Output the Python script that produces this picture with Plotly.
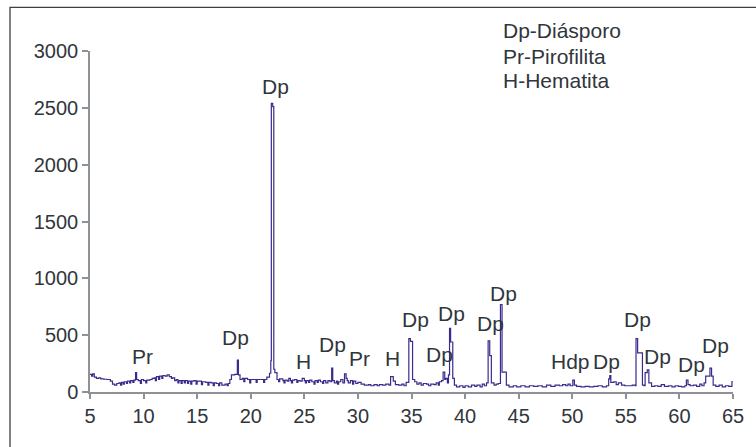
import plotly.graph_objects as go

# 2-theta positions and intensities
two_theta = [
    5.0, 5.15, 5.25, 5.4, 5.6, 5.8, 6.0, 6.3, 6.6, 6.9, 7.1, 7.3, 7.5, 7.7, 7.85, 7.95,
    8.1, 8.2, 8.4, 8.5, 8.7, 8.8, 9.0, 9.1, 9.25, 9.35, 9.5, 9.7, 9.8, 10.0, 10.2, 10.3,
    10.6, 10.8, 11.0, 11.1, 11.2, 11.4, 11.5, 11.7, 11.8, 12.0, 12.2, 12.4, 12.6, 12.7,
    12.9, 13.05, 13.2, 13.3, 13.5, 13.6, 13.8, 13.9, 14.1, 14.2, 14.4, 14.5, 14.7, 14.9,
    15.0, 15.2, 15.4, 15.5, 15.8, 16.0, 16.1, 16.3, 16.5, 16.6, 16.8, 17.0, 17.1, 17.3,
    17.6, 17.8, 17.9, 18.05, 18.2, 18.5, 18.75, 18.85, 19.0, 19.2, 19.35, 19.45, 19.7,
    19.9, 20.0, 20.3, 20.5, 20.6, 21.0, 21.2, 21.3, 21.5, 21.75, 21.87, 21.92, 22.05,
    22.15, 22.25, 22.45, 22.6, 22.7, 23.0, 23.1, 23.2, 23.4, 23.55, 23.7, 23.8, 23.9,
    24.1, 24.3, 24.4, 24.6, 24.8, 25.0, 25.1, 25.2, 25.4, 25.5, 25.7, 25.9, 26.0, 26.2,
    26.3, 26.5, 26.7, 26.8, 27.0, 27.2, 27.4, 27.55, 27.65, 27.8, 28.0, 28.1, 28.2, 28.4,
    28.6, 28.75, 28.9, 29.0, 29.1, 29.3, 29.5, 29.6, 29.8, 30.0, 30.3, 30.6, 31.0, 31.2,
    31.5, 31.8, 32.0, 32.3, 32.6, 32.9, 33.05, 33.3, 33.5, 33.8, 34.1, 34.3, 34.5, 34.75,
    34.9, 35.1, 35.3, 35.5, 35.7, 35.9, 36.1, 36.4, 36.6, 36.8, 37.1, 37.3, 37.5, 37.6,
    37.8, 37.95, 38.1, 38.2, 38.35, 38.45, 38.55, 38.65, 38.85, 39.0, 39.2, 39.5, 39.8,
    40.0, 40.3, 40.6, 40.9, 41.1, 41.4, 41.6, 41.8, 42.0, 42.15, 42.3, 42.45, 42.7, 42.9,
    43.1, 43.3, 43.45, 43.85, 44.1, 44.5, 44.8, 45.2, 45.6, 46.0, 46.4, 46.8, 47.2, 47.6,
    48.0, 48.4, 48.8, 49.1, 49.4, 49.6, 49.8, 50.05, 50.2, 50.4, 50.8, 51.2, 51.6, 52.0,
    52.4, 52.8, 53.2, 53.4, 53.5, 53.6, 53.9, 54.1, 54.3, 54.6, 54.9, 55.3, 55.6, 55.85,
    55.95, 56.1, 56.55, 56.7, 56.8, 57.0, 57.15, 57.4, 57.7, 58.0, 58.3, 58.6, 59.0, 59.3,
    59.6, 59.9, 60.2, 60.5, 60.65, 60.8, 61.0, 61.3, 61.6, 61.9, 62.1, 62.3, 62.45, 62.85,
    63.0, 63.15, 63.4, 63.7, 64.0, 64.3, 64.6, 64.9, 65.0,
]
intensity = [
    155, 140, 160, 130, 120, 125, 115, 112, 110, 95, 70, 60, 75, 80, 60, 85,
    70, 90, 75, 95, 80, 100, 85, 105, 170, 110, 100, 75, 110, 100, 80, 105,
    110, 120, 125, 100, 135, 110, 140, 120, 145, 140, 150, 135, 120, 125,
    100, 110, 80, 100, 75, 100, 80, 100, 75, 95, 70, 95, 100, 70,
    95, 95, 65, 90, 85, 60, 85, 80, 55, 80, 75, 55, 80, 60,
    70, 55, 75, 110, 150, 155, 280, 150, 110, 120, 90, 120, 110,
    80, 110, 110, 85, 110, 110, 85, 110, 130, 165, 275, 2540, 2510,
    200, 170, 110, 90, 115, 100, 80, 105, 95, 120, 100, 80, 105,
    110, 85, 100, 95, 120, 100, 80, 100, 85, 105, 90, 70, 100, 85,
    105, 90, 75, 100, 80, 100, 90, 210, 100, 80, 95, 70, 90, 110,
    80, 160, 120, 100, 80, 100, 70, 95, 75, 85, 70, 60, 65, 55,
    65, 55, 65, 60, 70, 60, 135, 95, 65, 60, 70, 55, 85, 470,
    445, 110, 90, 70, 80, 60, 75, 70, 55, 70, 65, 80, 60, 90,
    100, 175, 110, 120, 80, 150, 560, 440, 120, 60, 45, 55, 40,
    55, 45, 60, 50, 60, 45, 70, 55, 80, 450, 320, 80, 60, 70,
    75, 770, 175, 60, 45, 55, 45, 55, 45, 55, 50, 55, 45, 60,
    50, 60, 55, 65, 55, 70, 55, 105, 60, 50, 45, 50, 45, 50,
    55, 45, 55, 115, 145, 85, 90, 65, 80, 60, 55, 55, 60, 55,
    470, 345, 60, 55, 170, 195, 80, 50, 55, 50, 65, 50, 55, 45,
    55, 50, 45, 55, 105, 65, 55, 60, 50, 70, 55, 80, 140, 210,
    140, 60, 50, 60, 45, 55, 50, 90, 90,
]

# Peak labels
label_text = ["Pr", "Dp", "Dp", "H", "Dp", "Pr", "H", "Dp", "Dp", "Dp", "Dp", "Dp",
              "Hdp", "Dp", "Dp", "Dp", "Dp", "Dp"]
label_x = [9.87, 18.6, 22.27, 24.9, 27.66, 30.19, 33.2, 35.37, 37.6, 38.76, 42.37, 43.54,
           49.87, 53.17, 56.1, 57.94, 61.12, 63.34]
label_y = [313, 483, 2692, 269, 416, 299, 299, 636, 334, 688, 606, 870,
           269, 269, 636, 308, 246, 407]

legend_lines = ["Dp-Diásporo", "Pr-Pirofilita", "H-Hematita"]

x_ticks = [5, 10, 15, 20, 25, 30, 35, 40, 45, 50, 55, 60, 65]
y_ticks = [0, 500, 1000, 1500, 2000, 2500, 3000]

FONT = "Liberation Sans, Arial, sans-serif"
TXT = "#30363b"
AX = "#8d9297"

fig = go.Figure()
fig.add_trace(go.Scatter(
    x=two_theta, y=intensity, mode="lines", line_shape="hv",
    line=dict(color="#3b2b8c", width=1.2), showlegend=False, hoverinfo="skip",
))

annotations = []
for t, lx, ly in zip(label_text, label_x, label_y):
    annotations.append(dict(x=lx, y=ly, xref="x", yref="y", text=t, showarrow=False,
                            xanchor="center", yanchor="middle",
                            font=dict(family=FONT, size=21, color=TXT)))

plot_top, plot_bot, plot_l, plot_r = 51, 392.3, 90, 738.7
ph = plot_bot - plot_top
pw = plot_r - plot_l
for line, py in zip(legend_lines, [30, 56.5, 81]):
    annotations.append(dict(x=(505 - plot_l) / pw, y=(plot_bot - py) / ph, xref="paper", yref="paper",
                            text=line, showarrow=False, xanchor="left", yanchor="middle",
                            font=dict(family=FONT, size=21, color=TXT)))

fig.update_layout(
    width=756, height=447,
    margin=dict(l=plot_l, r=756 - plot_r, t=plot_top, b=447 - plot_bot),
    paper_bgcolor="white", plot_bgcolor="white",
    font=dict(family=FONT, size=20, color=TXT),
    annotations=annotations,
    shapes=[dict(type="rect", xref="paper", yref="paper",
                 x0=(9.3 - plot_l) / pw, y0=-2, x1=3, y1=(plot_bot - 7.3) / ph,
                 line=dict(color="#3a4045", width=1.3), fillcolor="rgba(0,0,0,0)", layer="below")],
    xaxis=dict(range=[5, 65], tickvals=x_ticks, ticktext=[str(v) for v in x_ticks],
               showgrid=False, zeroline=False, showline=True, linecolor=AX, linewidth=1.5,
               ticks="outside", ticklen=5, tickcolor=AX, tickwidth=1.5,
               tickfont=dict(family=FONT, size=20, color=TXT)),
    yaxis=dict(range=[0, 3000], tickvals=y_ticks, ticktext=[str(v) for v in y_ticks],
               showgrid=False, zeroline=False, showline=True, linecolor=AX, linewidth=1.5,
               ticks="outside", ticklen=6, tickcolor=AX, tickwidth=1.5,
               tickfont=dict(family=FONT, size=20, color=TXT)),
)

fig.write_html("out.html")
